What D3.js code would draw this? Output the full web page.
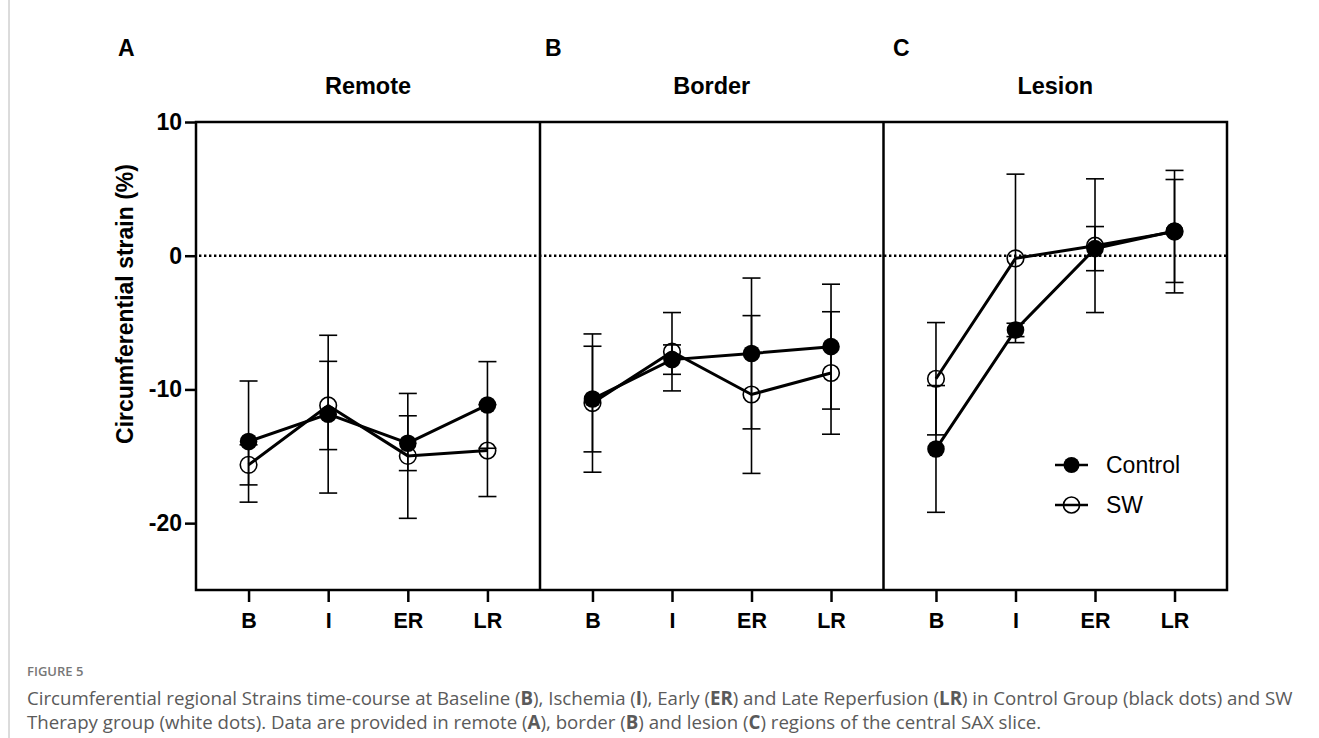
<!DOCTYPE html>
<html>
<head>
<meta charset="utf-8">
<script src="https://cdn.jsdelivr.net/npm/d3@7"></script>
<style>
  html, body { margin: 0; padding: 0; background: #fff; }
  svg { display: block; }
</style>
</head>
<body>
<svg id="chart" width="1319" height="738"></svg>
<script>
// ---------------- DATA ----------------
const categories = ["B", "I", "ER", "LR"];
const panelTitles = ["Remote", "Border", "Lesion"];
const panelLetters = ["A", "B", "C"];
const yTicks = [10, 0, -10, -20];
const seriesNames = ["Control", "SW"];

const remoteControl    = [-13.9, -11.85, -14.02, -11.16];
const remoteControlErr = [4.53, 5.9, 2.05, 3.24];
const remoteSW         = [-15.64, -11.2, -14.97, -14.57];
const remoteSWErr      = [1.5, 3.3, 4.67, 3.44];

const borderControl    = [-10.72, -7.77, -7.31, -6.8];
const borderControlErr = [3.95, 1.1, 5.64, 4.67];
const borderSW         = [-11.02, -7.18, -10.38, -8.77];
const borderSWErr      = [5.17, 2.93, 5.9, 4.58];

const lesionControl    = [-14.45, -5.55, 0.53, 1.85];
const lesionControlErr = [4.74, 0.5, 1.65, 3.85];
const lesionSW         = [-9.2, -0.2, 0.75, 1.8];
const lesionSWErr      = [4.2, 6.3, 5.0, 4.58];

// ---------------- LAYOUT ----------------
const svg = d3.select("#chart");
const font = "'Liberation Sans', Arial, Helvetica, sans-serif";
const capFont = "'Open Sans', 'Noto Sans', sans-serif";

const plotLeft = 196, plotRight = 1227, plotTop = 122, plotBottom = 590;
const panelEdges = [196, 540, 883.5, 1227];

const y = d3.scaleLinear().domain([-25, 10]).range([plotBottom, plotTop]);

const panels = [
  {ctrl: remoteControl, ctrlErr: remoteControlErr, sw: remoteSW, swErr: remoteSWErr},
  {ctrl: borderControl, ctrlErr: borderControlErr, sw: borderSW, swErr: borderSWErr},
  {ctrl: lesionControl, ctrlErr: lesionControlErr, sw: lesionSW, swErr: lesionSWErr}
];

// left page rule
svg.append("line").attr("x1", 9).attr("x2", 9).attr("y1", 0).attr("y2", 738)
  .attr("stroke", "#b8b8b8").attr("stroke-width", 1);

// zero dotted line
svg.append("line")
  .attr("x1", plotLeft + 3).attr("x2", plotRight)
  .attr("y1", y(0)).attr("y2", y(0))
  .attr("stroke", "#000").attr("stroke-width", 2.4)
  .attr("stroke-dasharray", "2.4,2.6");

// Y axis
const yAxis = svg.append("g")
  .attr("transform", `translate(${plotLeft},0)`)
  .call(d3.axisLeft(y).tickValues(yTicks).tickSize(11).tickPadding(3).tickFormat(d3.format("d")));
yAxis.select(".domain").remove();
yAxis.selectAll(".tick line").attr("stroke", "#000").attr("stroke-width", 2.5);
yAxis.selectAll(".tick text")
  .attr("font-family", font).attr("font-weight", "bold").attr("font-size", 23).attr("fill", "#000")
  .text(d => d < 0 ? "-" + Math.abs(d) : d);

// Y label
svg.append("text")
  .attr("transform", "translate(133,304) rotate(-90)")
  .attr("text-anchor", "middle")
  .attr("font-family", font).attr("font-weight", "bold").attr("font-size", 23)
  .text("Circumferential strain (%)");

const lineGen = (x) => d3.line().x((d, i) => x(categories[i])).y(d => y(d));

panels.forEach((p, k) => {
  const x0 = panelEdges[k], x1 = panelEdges[k + 1];
  const x = d3.scalePoint().domain(categories).range([x0, x1]).padding(0.66);
  const g = svg.append("g");

  // x axis
  const xa = svg.append("g")
    .attr("transform", `translate(0,${plotBottom})`)
    .call(d3.axisBottom(x).tickSize(12).tickPadding(11));
  xa.select(".domain").remove();
  xa.selectAll(".tick line").attr("stroke", "#000").attr("stroke-width", 2.5);
  xa.selectAll(".tick text")
    .attr("font-family", font).attr("font-weight", "bold").attr("font-size", 21.5).attr("fill", "#000");

  // titles
  svg.append("text")
    .attr("x", (x0 + x1) / 2).attr("y", 94)
    .attr("text-anchor", "middle")
    .attr("font-family", font).attr("font-weight", "bold").attr("font-size", 23.5)
    .text(panelTitles[k]);

  // error bars
  const bars = [];
  categories.forEach((c, i) => {
    bars.push({c, m: p.sw[i], e: p.swErr[i]});
    bars.push({c, m: p.ctrl[i], e: p.ctrlErr[i]});
  });
  bars.forEach(b => {
    const cx = x(b.c);
    g.append("line").attr("x1", cx).attr("x2", cx)
      .attr("y1", y(b.m + b.e)).attr("y2", y(b.m - b.e))
      .attr("stroke", "#000").attr("stroke-width", 1.6);
    [b.m + b.e, b.m - b.e].forEach(v => {
      g.append("line").attr("x1", cx - 9).attr("x2", cx + 9)
        .attr("y1", y(v)).attr("y2", y(v))
        .attr("stroke", "#000").attr("stroke-width", 1.6);
    });
  });

  // SW series
  g.append("path").datum(p.sw).attr("d", lineGen(x))
    .attr("fill", "none").attr("stroke", "#000").attr("stroke-width", 3);
  g.selectAll(".sw").data(p.sw).enter().append("circle")
    .attr("cx", (d, i) => x(categories[i])).attr("cy", d => y(d))
    .attr("r", 8.3).attr("fill", "none").attr("stroke", "#000").attr("stroke-width", 1.6);

  // Control series
  g.append("path").datum(p.ctrl).attr("d", lineGen(x))
    .attr("fill", "none").attr("stroke", "#000").attr("stroke-width", 3);
  g.selectAll(".ctrl").data(p.ctrl).enter().append("circle")
    .attr("cx", (d, i) => x(categories[i])).attr("cy", d => y(d))
    .attr("r", 8.8).attr("fill", "#000");
});

// Panel letters
[118, 545, 893].forEach((lx, i) => {
  svg.append("text").attr("x", lx).attr("y", 56)
    .attr("font-family", font).attr("font-weight", "bold").attr("font-size", 23)
    .text(panelLetters[i]);
});

// Frame
const frame = svg.append("g").attr("fill", "none").attr("stroke", "#000").attr("stroke-width", 2.5);
frame.append("rect").attr("x", plotLeft).attr("y", plotTop)
  .attr("width", plotRight - plotLeft).attr("height", plotBottom - plotTop);
[panelEdges[1], panelEdges[2]].forEach(px => {
  frame.append("line").attr("x1", px).attr("x2", px).attr("y1", plotTop).attr("y2", plotBottom);
});

// Legend
const legendY = [465, 505];
seriesNames.forEach((name, i) => {
  const lg = svg.append("g");
  lg.append("line").attr("x1", 1055).attr("x2", 1088).attr("y1", legendY[i]).attr("y2", legendY[i])
    .attr("stroke", "#000").attr("stroke-width", 2.5);
  lg.append("circle").attr("cx", 1071.5).attr("cy", legendY[i]).attr("r", 8)
    .attr("fill", i === 0 ? "#000" : "none").attr("stroke", "#000").attr("stroke-width", i === 0 ? 0 : 1.6);
  lg.append("text").attr("x", 1106).attr("y", legendY[i]).attr("dy", "0.36em")
    .attr("font-family", font).attr("font-size", 23).text(name);
});

// Caption
svg.append("text").attr("x", 27).attr("y", 676)
  .attr("font-family", capFont).attr("font-weight", 600).attr("font-size", 13)
  .attr("fill", "#777").text("FIGURE 5");

const capLines = [
  [["Circumferential regional Strains time-course at Baseline (", 0], ["B", 1], ["), Ischemia (", 0], ["I", 1], ["), Early (", 0], ["ER", 1], [") and Late Reperfusion (", 0], ["LR", 1], [") in Control Group (black dots) and SW", 0]],
  [["Therapy group (white dots). Data are provided in remote (", 0], ["A", 1], ["), border (", 0], ["B", 1], [") and lesion (", 0], ["C", 1], [") regions of the central SAX slice.", 0]]
];
const capY = [705, 729];
const capNodes = capLines.map((segs, li) => {
  const t = svg.append("text").attr("x", 27).attr("y", capY[li])
    .attr("font-family", capFont).attr("font-size", 15.5).attr("fill", "#5a5a5a");
  segs.forEach(([s, b]) => {
    t.append("tspan").attr("font-weight", b ? 700 : 400).text(s);
  });
  return t;
});
// fit first caption line to the reference width
const len = capNodes[0].node().getComputedTextLength();
const fs = 15.5 * 1266 / len;
capNodes.forEach(t => t.attr("font-size", fs));
</script>
</body>
</html>
